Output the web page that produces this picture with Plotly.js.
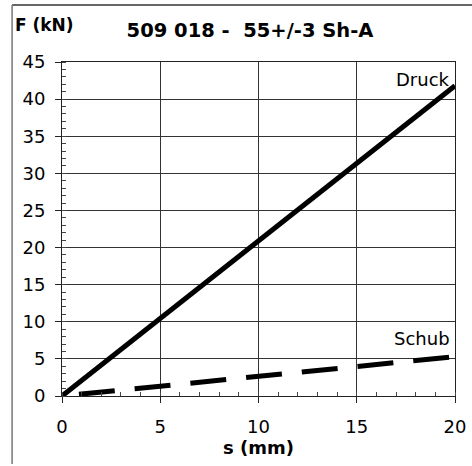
<!DOCTYPE html>
<html>
<head>
<meta charset="utf-8">
<script src="https://cdn.plot.ly/plotly-3.0.1.min.js"></script>
<style>html,body{margin:0;padding:0;background:#fff;}#chart{width:472px;height:466px;}</style>
</head>
<body>
<div id="chart"></div>
<script>
// Data
var s_mm = [0, 20];
var druck_kN = [0, 41.8];
var schub_kN = [0, 5.3];
var xTicks = [0, 5, 10, 15, 20];
var yTicks = [0, 5, 10, 15, 20, 25, 30, 35, 40, 45];
var seriesNames = ["Druck", "Schub"];

var FONT = "DejaVu Sans, Liberation Sans, Arial, sans-serif";

var traces = [
  {x: s_mm, y: druck_kN, mode: "lines", name: seriesNames[0],
   line: {color: "#000", width: 5}},
  {x: s_mm, y: schub_kN, mode: "lines", name: seriesNames[1],
   line: {color: "#000", width: 5, dash: "0px,17px,36px,3px"}}
];

var layout = {
  width: 472, height: 466,
  margin: {l: 62, r: 17, t: 62, b: 70},
  paper_bgcolor: "#fff", plot_bgcolor: "#fff",
  showlegend: false,
  font: {family: FONT, color: "#000", size: 18},
  title: {text: "<b>509 018 -&nbsp;&nbsp;55+/-3 Sh-A</b>", x: 250 / 472, xref: "container",
          y: 1 - 30 / 466, yref: "container", yanchor: "middle", xanchor: "center",
          font: {family: FONT, size: 19.5, color: "#000"}},
  xaxis: {
    range: [0, 20], tickvals: xTicks, ticktext: xTicks.map(String),
    showgrid: true, gridcolor: "#333", gridwidth: 1,
    showline: true, linecolor: "#222", linewidth: 1, mirror: true,
    ticks: "outside", ticklen: 6, tickcolor: "#222",
    minor: {dtick: 1, ticks: "inside", ticklen: 4, tickcolor: "#444", showgrid: false},
    zeroline: false, tickfont: {size: 18}, ticklabelstandoff: 8,
    title: {text: "<b>s (mm)</b>", font: {size: 18}, standoff: 2}
  },
  yaxis: {
    range: [0, 45], tickvals: yTicks, ticktext: yTicks.map(String),
    showgrid: true, gridcolor: "#333", gridwidth: 1,
    showline: true, linecolor: "#222", linewidth: 1, mirror: true,
    ticks: "outside", ticklen: 6, tickcolor: "#222",
    minor: {dtick: 1, ticks: "inside", ticklen: 4, tickcolor: "#444", showgrid: false},
    zeroline: false, tickfont: {size: 18}, ticklabelstandoff: 6
  },
  annotations: [
    {x: 19.85, y: 42.6, xref: "x", yref: "y", text: seriesNames[0], showarrow: false,
     xanchor: "right", yanchor: "middle", font: {size: 18}},
    {x: 19.85, y: 7.8, xref: "x", yref: "y", text: seriesNames[1], showarrow: false,
     xanchor: "right", yanchor: "middle", font: {size: 18}},
    {x: 0, y: 0, xref: "paper", yref: "paper", text: "<b>F (kN)</b>", showarrow: false,
     xanchor: "left", yanchor: "middle", font: {size: 17}}
  ],
  shapes: [
    {type: "line", xref: "paper", yref: "paper", x0: -0.127, x1: 1.05, y0: 1.1707, y1: 1.1707,
     line: {color: "#666", width: 2}},
    {type: "line", xref: "paper", yref: "paper", x0: -0.127, x1: -0.127, y0: 1.1707, y1: -0.2036,
     line: {color: "#777", width: 1.5}}
  ]
};
// Position "F (kN)" annotation in paper coords computed from pixel location
layout.annotations[2].x = (13 - 62) / 393;
layout.annotations[2].y = (396 - 25) / 334;

Plotly.newPlot("chart", traces, layout, {displayModeBar: false, staticPlot: true});
</script>
</body>
</html>
